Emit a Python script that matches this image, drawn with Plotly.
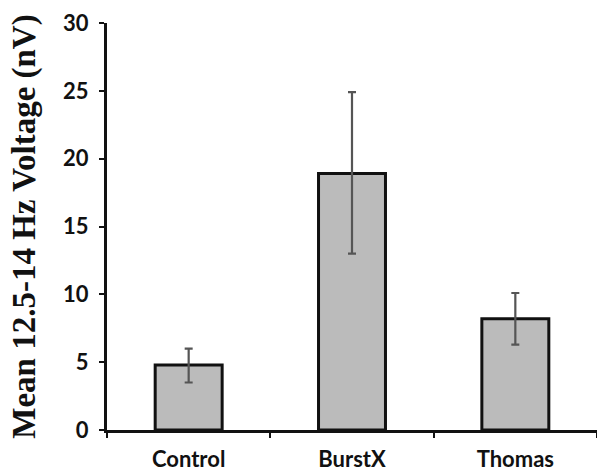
import plotly.graph_objects as go

categories = ["Control", "BurstX", "Thomas"]
means = [4.8, 18.9, 8.2]
err_plus = [1.2, 6.0, 1.9]
err_minus = [1.3, 5.9, 1.9]
y_ticks = [0, 5, 10, 15, 20, 25, 30]

fig = go.Figure()
fig.add_trace(go.Bar(
    x=categories, y=means, width=0.41,
    marker=dict(color="#bbbbbb", line=dict(color="#111111", width=3)),
    error_y=dict(type="data", array=err_plus, arrayminus=err_minus,
                 color="#555555", thickness=2.2, width=4, visible=True),
))

fig.update_layout(
    width=597, height=473,
    margin=dict(l=107, r=0, t=23, b=43, autoexpand=False),
    plot_bgcolor="white", paper_bgcolor="white",
    showlegend=False,
)
fig.update_xaxes(
    type="category", range=[-0.5, 2.5], automargin=False,
    showline=True, linecolor="#111111", linewidth=3,
    ticks="outside", tickson="boundaries", ticklen=5, tickwidth=2, tickcolor="#111111",
    ticklabelstandoff=8,
    tickfont=dict(family="Lato", size=22, color="#111111", weight="bold"),
    showgrid=False, zeroline=False,
)
fig.update_yaxes(
    range=[0, 30], tickvals=y_ticks, automargin=False,
    showline=True, linecolor="#111111", linewidth=3,
    ticks="outside", ticklen=5, tickwidth=2, tickcolor="#111111",
    ticklabelstandoff=6,
    tickfont=dict(family="Lato", size=22, color="#111111", weight="bold"),
    showgrid=False, zeroline=False,
    title=dict(text="Mean 12.5-14 Hz Voltage (nV)", standoff=18,
               font=dict(family="Liberation Serif", size=33, color="#111111", weight="bold")),
)

fig.write_html("out.html", config={"displayModeBar": False},
               post_script="document.body.style.margin='0';document.body.style.overflow='hidden';")
